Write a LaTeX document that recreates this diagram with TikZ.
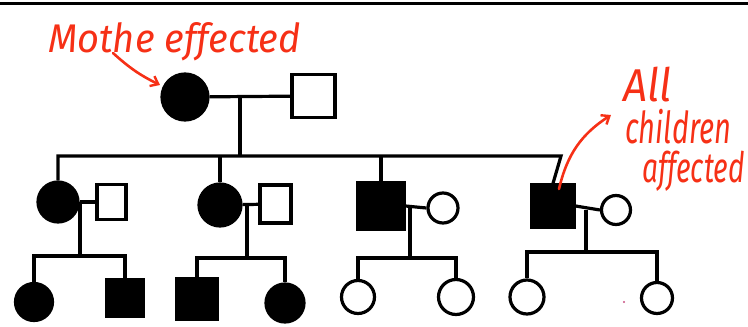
\documentclass[tikz,border=0pt]{standalone}
\usepackage{fontspec}
\newfontfamily\hand{Fira Sans}
\usetikzlibrary{arrows.meta}
\definecolor{pen}{RGB}{246,48,22}
\definecolor{speck}{RGB}{200,80,130}
\begin{document}
\begin{tikzpicture}[x=1pt,y=-1pt,
  line/.style={line width=3.2pt},
  fem/.style={circle,draw,line width=3.2pt,inner sep=0pt,minimum size=#1},
  femaff/.style={fem=#1,fill=black},
  mal/.style={rectangle,draw,line width=3.2pt,inner sep=0pt,minimum size=#1},
  malaff/.style={mal=#1,fill=black},
  note/.style={text=pen,inner sep=0pt,anchor=base west,font=\hand\itshape},
  pointer/.style={draw=pen,line width=2.6pt,line cap=round,-{Straight Barb[length=7pt,width=11pt,line width=2.4pt]}}]
\useasboundingbox (0,0) rectangle (748,327);
% top rule
\draw[line width=3pt] (0,3) -- (748,3);

% generation I
\node[femaff=46pt] (m1) at (185,97) {};
\node[mal=43pt] (f1) at (313.5,96) {};
\draw[line] (m1) -- (f1);
\coordinate (u1) at (240,96);
\coordinate (s1) at (240,155);
\coordinate (s1e) at (561,156);
\draw[line] (u1) -- (s1);

% generation II
\node[femaff=40pt] (a) at (58,202) {};
\node[mal=29pt,minimum height=35pt] (ah) at (111.5,202) {};
\node[femaff=42pt] (b) at (220,205) {};
\node[mal=31pt,minimum height=38pt] (bh) at (275.5,204) {};
\node[malaff=46pt] (c) at (381,206) {};
\node[fem=30pt] (cw) at (443,208) {};
\node[malaff=42pt] (d) at (553,206) {};
\node[fem=29pt] (dw) at (616,210) {};

\draw[line] (a) |- (s1e) -- (d.north);
\draw[line] (b) -- (b |- s1);
\draw[line] (c) -- (c |- s1);

\draw[line] (a) -- (ah);
\draw[line] (b) -- (bh);
\draw[line] (c.east) -- (cw.west);
\draw[line] (d.east) -- (dw.west);

\coordinate (u2) at (80,202);  \coordinate (s2) at (80,256);
\coordinate (u3) at (247,205); \coordinate (s3) at (247,258);
\coordinate (u4) at (410,208); \coordinate (s4) at (410,258);
\coordinate (u5) at (586,210); \coordinate (s5) at (586,252);
\draw[line] (u2) -- (s2);
\draw[line] (u3) -- (s3);
\draw[line] (u4) -- (s4);
\draw[line] (u5) -- (s5);

% generation III
\node[femaff=37pt] (a1) at (34,302) {};
\node[malaff=36pt] (a2) at (125,298) {};
\node[malaff=40pt] (b1) at (197,299) {};
\node[femaff=38pt] (b2) at (285,303) {};
\node[fem=33pt] (c1) at (358,297) {};
\node[fem=35pt] (c2) at (456,297) {};
\node[fem=34pt] (d1) at (527,297) {};
\node[fem=31pt] (d2) at (657,298) {};

\draw[line] (a1) |- (s2) -| (a2);
\draw[line] (b1) |- (s3) -| (b2);
\draw[line] (c1) |- (s4) -| (c2);
\draw[line] (d1) |- (s5) -| (d2);

% annotations
\node[note,font=\hand\itshape\fontsize{40}{40}\selectfont] (t1) at (48,52)
  {\scalebox{0.95}[1]{Mothe effected}};
\coordinate (p1) at (113,53);
\coordinate (q1) at (160,85);
\draw[pointer] (p1) to[bend right=8] (q1);

\node[note,font=\hand\itshape\fontsize{46}{46}\selectfont] (t2) at (623,101)
  {\scalebox{0.92}[1]{All}};
\node[note,font=\hand\itshape\fontsize{44}{44}\selectfont] (t3) at (625,143)
  {\scalebox{0.66}[1]{children}};
\node[note,font=\hand\itshape\fontsize{42}{42}\selectfont] (t4) at (642,182)
  {\scalebox{0.67}[1]{affected}};
\coordinate (p2) at (559,189);
\coordinate (q2) at (611,115);
\draw[pointer] (p2) to[bend left=22] (q2);

% stray speck
\fill[speck] (624,302) circle (1.2pt);
\end{tikzpicture}
\end{document}
